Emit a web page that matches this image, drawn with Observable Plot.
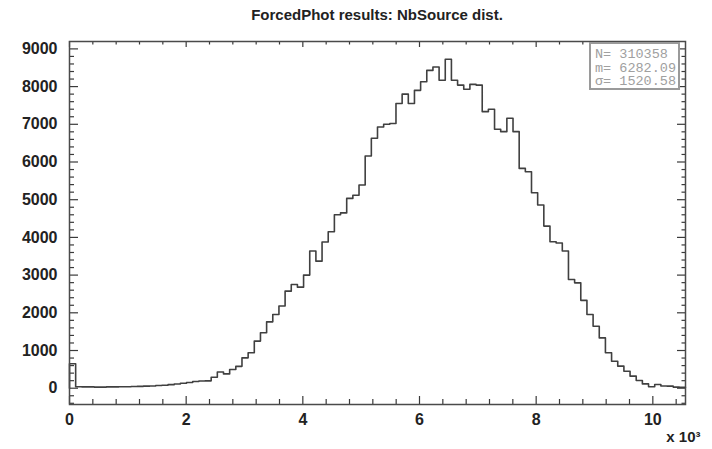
<!DOCTYPE html>
<html><head><meta charset="utf-8">
<script src="https://cdn.jsdelivr.net/npm/d3@7"></script>
<script src="https://cdn.jsdelivr.net/npm/@observablehq/plot@0.6"></script>
<style>
body{margin:0;background:#fff;}
#wrap{position:relative;width:712px;height:449px;font-family:"Liberation Sans",Arial,sans-serif;background:#fff;}
#title{height:30px;line-height:30px;text-align:center;font-weight:bold;font-size:15px;color:#222;padding-left:42px;box-sizing:border-box;}
#stats{position:absolute;left:589px;top:42px;width:91px;height:48px;box-sizing:border-box;border:2px solid #9a9a9a;background:#fff;overflow:hidden;font-family:"Liberation Mono","DejaVu Sans Mono",monospace;font-size:13.5px;line-height:13.5px;color:#a0a0a0;padding:4px 0 0 4px;white-space:pre;}
svg{display:block;}
</style></head>
<body>
<div id="wrap"><div id="title"></div><div id="chart"></div><div id="stats"></div></div>
<script>
const titleText = "ForcedPhot results: NbSource dist.";
const xMin = 0, xMax = 10560, nBins = 100;
const counts = [
  650,
  40, 35, 35, 30, 30, 35, 35, 40, 40, 45,
  50, 55, 60, 70, 80, 95, 110, 130, 150, 180, 190, 195,
  290, 430, 380, 495, 580, 805, 940, 1250, 1470, 1760, 1955, 2180, 2575, 2750, 2680, 3000,
  3640, 3370, 3880, 4150, 4600, 4650, 5035, 5120, 5390, 6160, 6630, 6930, 7000, 7020, 7550, 7800, 7550, 7900, 8130, 8430, 8520, 8170, 8725,
  8170, 8040, 7930, 8060, 8040, 7335, 7400, 6870, 6805, 7160, 6805, 5830, 5740, 5185, 4860, 4300,
  3885, 3850, 3640, 2885, 2795, 2330, 1955, 1645, 1335, 940, 715, 585, 450, 320, 205, 115, 40, 100, 60, 55, 30, 25
];
const statLabels = ["N=", "m=", "\u03c3="];
const statValues = ["310358", "6282.09", "1520.58"];
const xMajor = [0, 2000, 4000, 6000, 8000, 10000];
const xLabels = ["0", "2", "4", "6", "8", "10"];
const xMinor = d3.range(400, 10560, 400).filter(v => !xMajor.includes(v));
const yMajor = [0, 1000, 2000, 3000, 4000, 5000, 6000, 7000, 8000, 9000];
const yLabels = ["0", "1000", "2000", "3000", "4000", "5000", "6000", "7000", "8000", "9000"];
const yMinor = d3.range(-400, 9200, 200).filter(v => !yMajor.includes(v));
const xExponent = "x 10\u00b3";
const yDomain = [-432, 9196];

document.getElementById("title").textContent = titleText;
document.getElementById("stats").textContent = statLabels.map((l, i) => l + " " + statValues[i]).join("\n");

const binW = (xMax - xMin) / nBins;
const pts = [{x: xMin, y: 0}];
counts.forEach((c, i) => pts.push({x: xMin + i * binW, y: c}));
pts.push({x: xMax, y: counts[counts.length - 1]});

const W = 712, H = 419, mL = 69, mR = 27, mT = 11, mB = 45;
const iW = W - mL - mR, iH = H - mT - mB;
const ink = "#3a3a3a";

const chart = Plot.plot({
  width: W, height: H,
  marginLeft: mL, marginRight: mR, marginTop: mT, marginBottom: mB,
  x: {domain: [xMin, xMax]},
  y: {domain: yDomain},
  style: {fontFamily: "Liberation Sans, Arial, sans-serif", background: "white", color: "#222"},
  marks: [
    Plot.line(pts, {x: "x", y: "y", curve: "step-after", stroke: "#404040", strokeWidth: 1.6}),
    // inside ticks (bottom/top)
    Plot.ruleX(xMajor, {insetTop: iH - 8, stroke: ink, strokeWidth: 1.2}),
    Plot.ruleX(xMinor, {insetTop: iH - 5, stroke: ink, strokeWidth: 1.2}),
    Plot.ruleX(xMajor, {insetBottom: iH - 6, stroke: ink, strokeWidth: 1.2}),
    Plot.ruleX(xMinor, {insetBottom: iH - 3.5, stroke: ink, strokeWidth: 1.2}),
    // inside ticks (left/right)
    Plot.ruleY(yMajor, {insetRight: iW - 9, stroke: ink, strokeWidth: 1.2}),
    Plot.ruleY(yMinor, {insetRight: iW - 5, stroke: ink, strokeWidth: 1.2}),
    Plot.ruleY(yMajor, {insetLeft: iW - 8, stroke: ink, strokeWidth: 1.2}),
    Plot.ruleY(yMinor, {insetLeft: iW - 3.5, stroke: ink, strokeWidth: 1.2}),
    Plot.axisX(xMajor, {anchor: "bottom", tickSize: 0, tickPadding: 9, label: null,
      tickFormat: d => xLabels[xMajor.indexOf(d)], fontSize: 16, fontWeight: "bold", fill: "#222"}),
    Plot.axisY(yMajor, {anchor: "left", tickSize: 0, tickPadding: 12, label: null,
      tickFormat: d => yLabels[yMajor.indexOf(d)], fontSize: 16, fontWeight: "bold", fill: "#222"}),
    Plot.text([xExponent], {text: d => d, frameAnchor: "bottom-right", dx: 15, dy: 33,
      textAnchor: "end", lineAnchor: "middle", fontSize: 15, fontWeight: "bold", fill: "#222"}),
    Plot.frame({stroke: "#4a4a4a", strokeWidth: 1.5})
  ]
});
document.getElementById("chart").appendChild(chart);
</script>
</body></html>
